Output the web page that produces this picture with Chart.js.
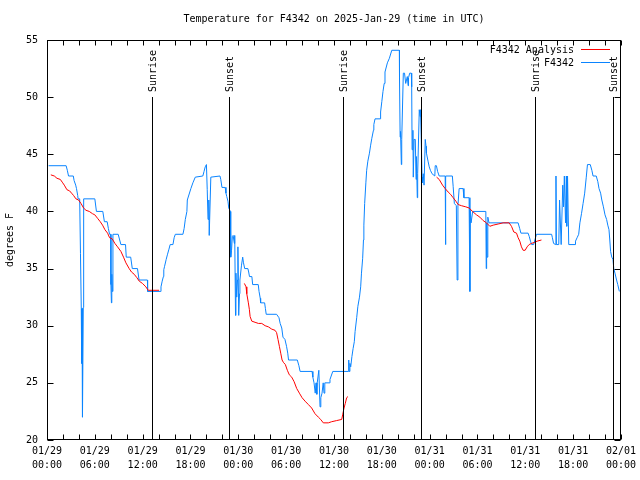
<!DOCTYPE html>
<html>
<head>
<meta charset="utf-8">
<script src="https://cdn.jsdelivr.net/npm/chart.js@4"></script>
<style>
  body { margin: 0; background: #fff; }
</style>
</head>
<body>
<canvas id="myChart" width="640" height="480"></canvas>
<script>
// etiquetas del eje x (cada 6 horas)
const dateLabels = ['01/29', '01/29', '01/29', '01/29', '01/30', '01/30', '01/30', '01/30', '01/31', '01/31', '01/31', '01/31', '02/01'];
const timeLabels = ['00:00', '06:00', '12:00', '18:00', '00:00', '06:00', '12:00', '18:00', '00:00', '06:00', '12:00', '18:00', '00:00'];

// F4342 (horas desde 01/29 00:00, grados F)
const stationHours = [0.2, 2.4, 2.55, 2.7, 3.3, 3.4, 3.6, 3.7, 3.85, 3.9, 4.1, 4.2, 4.3, 4.35, 4.4, 4.45, 4.55, 4.6,
  6.0, 6.2, 7.0, 7.2, 7.55, 7.7, 7.85, 8.0, 8.02, 8.08, 8.13, 8.2, 8.27, 8.93, 9.27, 9.85, 9.94, 10.5, 10.7, 11.35,
  11.55, 12.6, 12.62, 14.2, 14.3, 14.45, 14.6, 14.65, 14.75, 14.95, 15.1, 15.3, 15.45, 15.8, 15.95, 16.1, 17.05,
  17.2, 17.35, 17.55, 17.6, 18.05, 18.3, 18.6, 19.55, 19.7, 19.85, 20.0, 20.1, 20.2, 20.3, 20.35, 20.55, 21.7,
  21.8, 21.95, 22.35, 22.45, 22.55, 22.7, 22.8, 23.0, 23.05, 23.15, 23.25, 23.35, 23.5, 23.55, 23.65, 23.7, 23.8,
  23.9, 23.95, 24.05, 24.15, 24.2, 24.4, 24.55, 24.65, 24.8, 25.2, 25.3, 25.4, 25.7, 25.8, 26.5, 26.6, 26.75,
  26.8, 27.3, 27.4, 27.5, 28.8, 29.1, 29.25, 29.45, 29.6, 29.85, 30.05, 30.2, 30.3, 31.4, 31.6, 31.75, 33.25,
  33.35, 33.5, 33.65, 33.75, 33.85, 33.9, 34.1, 34.25, 34.35, 34.5, 34.65, 34.75, 34.85, 35.4, 35.5, 35.65,
  35.85, 37.8, 37.85, 37.9, 38.0, 38.1, 38.25, 38.4, 38.55, 38.65, 38.85, 39.0, 39.2, 39.35, 39.45, 39.6, 39.7,
  39.75, 39.85, 40.0, 40.1, 40.25, 40.45, 40.6, 40.75, 40.95, 41.0, 41.15, 41.8, 41.85, 42.0, 42.15, 42.3, 42.4,
  42.7, 42.95, 43.25, 44.2, 44.22, 44.3, 44.35, 44.45, 44.5, 44.7, 44.85, 45.0, 45.2, 45.3, 45.35, 45.5, 45.7,
  45.75, 45.8, 45.9, 45.95, 46.05, 46.2, 46.3, 46.35, 46.45, 46.5, 46.7, 46.8, 46.85, 46.95, 47.05, 47.1, 47.2,
  47.3, 47.45, 47.55, 47.6, 47.8, 47.95, 48.1, 48.3, 48.65, 48.7, 48.85, 49.0, 49.2, 49.95, 49.97, 50.05, 50.85,
  50.95, 51.1, 51.35, 51.45, 51.55, 51.7, 52.2, 52.3, 52.95, 53.05, 53.1, 53.2, 53.4, 55.05, 55.1, 55.15, 55.2,
  55.3, 55.45, 55.95, 59.1, 59.3, 59.45, 60.35, 60.5, 60.65, 60.8, 61.05, 61.4, 63.3, 63.4, 63.55, 63.8, 63.85,
  63.9, 64.2, 64.3, 64.5, 64.7, 64.8, 64.9, 65.05, 65.15, 65.2, 65.3, 65.45, 66.25, 66.3, 66.5, 66.7, 66.85,
  67.05, 67.25, 67.45, 67.65, 67.8, 68.15, 68.35, 68.5, 68.9, 69.1, 69.25, 69.45, 69.6, 69.8, 70.0, 70.2, 70.35,
  70.5, 70.6, 70.7, 70.85, 71.0, 71.1, 71.25, 71.45, 71.6, 71.8];
const stationTemps = [44.0, 44.0, 43.6, 43.1, 43.1, 42.7, 42.3, 42.0, 41.4, 41.1, 41.1, 36.3, 31.5, 26.7, 31.5, 22.0, 31.6, 41.1,
  41.1, 40.0, 40.0, 39.1, 39.1, 38.5, 38.0, 38.0, 33.6, 32.0, 34.5, 33.0, 38.0, 38.0, 37.1, 37.1, 36.0, 36.0, 35.0, 35.0,
  34.0, 34.0, 33.0, 33.0, 33.4, 33.9, 34.3, 34.9, 35.2, 35.8, 36.2, 36.7, 37.1, 37.1, 37.7, 38.0, 38.0,
  38.5, 39.3, 40.0, 41.0, 42.0, 42.5, 43.0, 43.1, 43.5, 43.9, 44.1, 41.9, 39.3, 41.0, 37.9, 43.0, 43.1,
  42.8, 42.1, 42.1, 41.6, 41.3, 40.9, 40.3, 40.0, 36.0, 36.6, 37.8, 37.9, 37.2, 37.9, 30.9, 34.6, 32.5,
  34.0, 36.9, 30.9, 32.8, 34.0, 35.3, 36.0, 35.5, 35.0, 35.0, 34.7, 34.3, 34.3, 33.6, 33.6, 33.0, 32.4,
  32.0, 32.0, 31.5, 31.0, 31.0, 30.7, 30.2, 29.8, 29.0, 28.8, 28.2, 27.6, 27.0, 27.0, 26.5, 26.0, 26.0,
  25.5, 25.0, 24.1, 25.0, 24.0, 25.0, 26.1, 22.9, 23.7, 24.1, 25.0, 24.1, 25.0, 25.0, 25.3, 25.6,
  26.0, 26.0, 27.0, 26.0, 26.7, 26.4, 27.3, 28.0, 28.6, 29.5, 30.7, 31.7, 32.5, 33.4, 34.6, 35.9, 37.5,
  38.8, 40.7, 42.5, 43.6, 44.4, 45.1, 45.8, 46.4, 47.1, 47.6, 48.1, 48.1, 48.7, 49.6, 50.5, 51.2, 52.2,
  53.0, 53.4, 54.1, 54.1, 51.7, 46.5, 47.0, 44.1, 46.3, 52.1, 52.1, 51.2, 51.8, 51.0, 51.7, 52.1, 52.1,
  50.9, 45.4, 47.1, 43.0, 46.3, 46.3, 42.8, 44.8, 41.2, 43.3, 48.9, 48.3, 48.9, 46.3, 43.0, 42.5, 43.3,
  42.3, 46.3, 45.7, 45.1, 44.4, 43.9, 43.6, 43.3, 43.1, 44.0, 44.0, 43.5, 43.1, 43.1, 37.1, 43.1, 43.1,
  42.2, 40.7, 40.5, 34.0, 40.5, 42.0, 42.0, 41.2, 41.2, 33.0, 40.1, 39.0, 40.0, 40.0, 35.0, 39.0, 36.0,
  39.5, 39.0, 39.0, 39.0, 38.5, 38.1, 38.1, 37.8, 37.4, 37.1, 37.1, 38.0, 38.0, 37.7, 37.2, 37.1, 43.1,
  37.1, 37.1, 41.0, 37.1, 42.3, 40.4, 43.1, 39.0, 43.1, 38.7, 43.1, 37.1, 37.1, 37.4, 37.7, 38.0, 39.0,
  39.8, 40.7, 41.6, 43.0, 44.1, 44.1, 43.6, 43.1, 43.1, 42.6, 42.0, 41.6, 41.0, 40.4, 39.7, 39.3, 38.8,
  38.4, 37.5, 36.5, 36.0, 35.8, 35.0, 34.6, 34.0, 33.6, 33.0];

// F4342 Analysis (null = hueco)
const analysisHours = [0.48, 0.92, 1.25, 1.67, 1.97, 2.17, 2.5, 2.83, 3.08, 3.33, 3.63, 3.96, 4.26, 4.59, 4.89, 5.3,
  5.71, 6.0, 6.34, 6.68, 6.97, 7.27, 7.6, 7.85, 8.18, 8.52, 8.85, 9.27, 9.6, 9.9, 10.31, 10.6, 10.94, 11.28,
  11.57, 11.98, 12.4, 12.7, 14.06, 18.0,
  24.76, 24.97, 25.06, 25.26, 25.39, 25.48, 25.69, 26.1, 26.52, 26.94, 27.36, 27.77, 28.2, 28.6, 28.8, 28.98,
  29.15, 29.32, 29.49, 29.65, 29.9, 30.15, 30.4, 30.7, 31.0, 31.33, 31.66, 32.0, 32.37, 32.79, 33.2, 33.62,
  34.04, 34.33, 34.66, 35.29, 35.71, 36.34, 36.97, 37.09, 37.26, 37.42, 37.59, 37.76, 42.0,
  48.87, 49.2, 49.62, 49.95, 50.32, 50.62, 50.95, 51.29, 51.58, 52.0, 52.54, 52.96, 53.38, 53.88, 54.3, 54.71,
  55.13, 55.55, 55.97, 56.6, 57.22, 57.97, 58.27, 58.56, 58.9, 59.1, 59.31, 59.52, 59.73, 59.98, 60.23, 60.48,
  60.78, 61.19, 61.48, 62.03];
const analysisTemps = [43.2, 43.1, 42.9, 42.8, 42.5, 42.3, 41.9, 41.8, 41.6, 41.4, 41.1, 41.0, 40.7, 40.3, 40.1, 40.0,
  39.8, 39.7, 39.4, 39.1, 38.8, 38.4, 38.1, 37.7, 37.6, 37.2, 36.9, 36.5, 36.0, 35.5, 35.0, 34.7, 34.5, 34.2,
  33.9, 33.7, 33.4, 33.1, 33.1, null,
  33.7, 33.4, 32.8, 32.0, 31.4, 30.8, 30.4, 30.3, 30.2, 30.2, 30.0, 29.9, 29.7, 29.6, 29.4, 28.8,
  28.2, 27.6, 27.0, 26.8, 26.6, 26.1, 25.7, 25.5, 25.1, 24.5, 24.1, 23.7, 23.4, 23.1, 22.8, 22.3,
  22.0, 21.8, 21.5, 21.5, 21.6, 21.7, 21.8, 22.2, 22.8, 23.2, 23.7, 23.8, null,
  43.0, 42.8, 42.3, 42.0, 41.7, 41.5, 41.2, 40.9, 40.6, 40.5, 40.4, 40.3, 40.0, 39.7, 39.5, 39.2,
  39.0, 38.7, 38.8, 38.9, 39.0, 39.0, 38.7, 38.2, 38.1, 37.7, 37.4, 36.9, 36.6, 36.6, 36.9, 37.1,
  37.2, 37.3, 37.4, 37.5];

// amanecer / atardecer (horas)
const sunEventHours = [13.2, 22.85, 37.15, 46.95, 61.25, 71.0];
const sunEventNames = ['Sunrise', 'Sunset', 'Sunrise', 'Sunset', 'Sunrise', 'Sunset'];

const FONT = '10px "DejaVu Sans Mono", monospace';
const BLUE = '#0a84ff';
const RED = '#ff0000';

function toPoints(xs, ys) {
    return xs.map((x, i) => ({ x: x, y: ys[i] }));
}

// dibuja marco, marcas, líneas de sol, leyenda y títulos al estilo gnuplot
const gnuplotFrame = {
    id: 'gnuplotFrame',
    afterDraw(chart) {
        const ctx = chart.ctx;
        const a = chart.chartArea;
        const xs = chart.scales.x;
        const ys = chart.scales.y;
        const L = Math.round(a.left) + 0.5, R = Math.round(a.right) - 0.5;
        const T = Math.round(a.top) + 0.5, B = Math.round(a.bottom) - 0.5;
        ctx.save();
        ctx.strokeStyle = '#000';
        ctx.lineWidth = 1;
        ctx.beginPath();
        // marcas x cada 2 horas
        for (let h = 0; h <= 72; h += 2) {
            const px = Math.round(xs.getPixelForValue(h)) + 0.5;
            ctx.moveTo(px, B); ctx.lineTo(px, B - 5);
            ctx.moveTo(px, T); ctx.lineTo(px, T + 5);
        }
        for (let v = 20; v <= 55; v += 5) {
            const py = Math.round(ys.getPixelForValue(v)) + 0.5;
            ctx.moveTo(L, py); ctx.lineTo(L + 6, py);
            ctx.moveTo(R, py); ctx.lineTo(R - 6, py);
        }
        ctx.stroke();
        ctx.strokeRect(L, T, R - L, B - T);

        // líneas de amanecer y atardecer
        ctx.font = FONT;
        ctx.fillStyle = '#000';
        const yTop = Math.round(ys.getPixelForValue(50));
        sunEventHours.forEach((h, i) => {
            const px = Math.round(xs.getPixelForValue(h)) + 0.5;
            ctx.beginPath();
            ctx.moveTo(px, yTop);
            ctx.lineTo(px, B);
            ctx.stroke();
            ctx.save();
            ctx.translate(px + 1, yTop - 5);
            ctx.rotate(-Math.PI / 2);
            ctx.textAlign = 'left';
            ctx.textBaseline = 'middle';
            ctx.fillText(sunEventNames[i], 0, 0);
            ctx.restore();
        });

        // leyenda
        const legend = [['F4342 Analysis', RED], ['F4342', BLUE]];
        legend.forEach((item, i) => {
            const y = 50 + i * 13;
            ctx.textAlign = 'right';
            ctx.textBaseline = 'middle';
            ctx.fillStyle = '#000';
            ctx.fillText(item[0], 574, y);
            ctx.strokeStyle = item[1];
            ctx.beginPath();
            ctx.moveTo(581, y - 0.5);
            ctx.lineTo(610, y - 0.5);
            ctx.stroke();
        });

        // título y etiqueta del eje y
        ctx.fillStyle = '#000';
        ctx.textAlign = 'center';
        ctx.textBaseline = 'middle';
        ctx.fillText('Temperature for F4342 on 2025-Jan-29 (time in UTC)', (a.left + a.right) / 2, 19);
        ctx.save();
        ctx.translate(10, 240);
        ctx.rotate(-Math.PI / 2);
        ctx.fillText('degrees F', 0, 0);
        ctx.restore();
        ctx.restore();
    }
};

function crearGrafico() {
    Chart.defaults.font.family = '"DejaVu Sans Mono", monospace';
    Chart.defaults.font.size = 10;
    Chart.defaults.color = '#000';
    const ctx = document.getElementById('myChart').getContext('2d');
    return new Chart(ctx, {
        type: 'line',
        data: {
            datasets: [{
                label: 'F4342 Analysis',
                data: toPoints(analysisHours, analysisTemps),
                borderColor: RED,
                borderWidth: 1,
                pointRadius: 0,
                spanGaps: false,
                fill: false
            }, {
                label: 'F4342',
                data: toPoints(stationHours, stationTemps),
                borderColor: BLUE,
                borderWidth: 1,
                pointRadius: 0,
                fill: false
            }]
        },
        options: {
            responsive: false,
            animation: false,
            layout: { padding: { top: 40, right: 19, bottom: 0, left: 0 } },
            plugins: {
                legend: { display: false },
                title: { display: false },
                tooltip: { enabled: false }
            },
            scales: {
                x: {
                    type: 'linear',
                    min: 0,
                    max: 72,
                    grid: { display: false, drawTicks: false },
                    border: { display: false },
                    afterFit(scale) { scale.height = 40; },
                    ticks: {
                        stepSize: 6,
                        autoSkip: false,
                        maxRotation: 0,
                        padding: 4,
                        font: { lineHeight: '14px' },
                        callback(v) {
                            const i = Math.round(v / 6);
                            return [dateLabels[i], timeLabels[i]];
                        }
                    }
                },
                y: {
                    min: 20,
                    max: 55,
                    grid: { display: false, drawTicks: false },
                    border: { display: false },
                    afterFit(scale) { scale.width = 47; },
                    ticks: { stepSize: 5, padding: 9 }
                }
            }
        },
        plugins: [gnuplotFrame]
    });
}

crearGrafico();
</script>
</body>
</html>
